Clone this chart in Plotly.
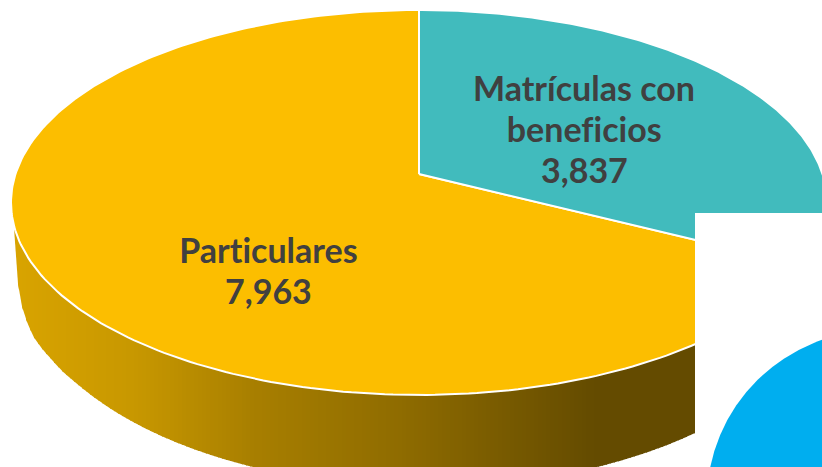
import numpy as np
import plotly.graph_objects as go

categories = [['Matrículas con', 'beneficios'], ['Particulares']]
values = [3837, 7963]
slice_colors = ['#41BBBD', '#FCBE00']
label_x = [584, 268]
label_top_y = [87, 249]
LINE_STEP = 41

W = 822
H = 467

# tilted disc: projective map of the unit circle, apex sits above the ellipse centre
APEX_X = 419
APEX_Y = 174
BX = 403.5
BY = 188.3
PERSP = 0.148

# wall: lower rim of the disc
LOW_CX = 425
LOW_CY = 275
LOW_RX = 405
LOW_RY = 212
left_rim_x = [14, 17, 21, 25, 33, 43, 62, 83]
left_rim_y = [228, 277, 303, 317, 336, 350, 371, 389]

wall_stop_x = [13, 133, 253, 400, 590, 830]
wall_stop_r = [217, 200, 168, 143, 101, 100]
wall_stop_g = [164, 152, 127, 108, 76, 75]


def disc_point(theta):
    # theta is clockwise from 12 o'clock
    u = np.sin(theta)
    v = np.cos(theta)
    w = 1 + PERSP * v
    return APEX_X + BX * u / w, APEX_Y - BY * v / w


def wedge(start, stop):
    theta = np.linspace(start, stop, 240)
    x, y = disc_point(theta)
    return np.r_[APEX_X, x, APEX_X], np.r_[APEX_Y, y, APEX_Y]


def wall_bottom(x):
    dx = np.clip((x - LOW_CX) / LOW_RX, -1, 1)
    y = LOW_CY + LOW_RY * np.sqrt(1 - dx ** 2)
    return np.where(x < 83, np.interp(x, left_rim_x, left_rim_y), y)


fig = go.Figure()

# side wall, vertical strips for the horizontal gradient
edges = np.arange(14, 830, 4)
for x0 in edges:
    xs = np.linspace(x0, x0 + 5, 6)
    r = np.interp(x0, wall_stop_x, wall_stop_r)
    g = np.interp(x0, wall_stop_x, wall_stop_g)
    fig.add_trace(go.Scatter(
        x=np.r_[xs, xs[::-1]],
        y=np.r_[wall_bottom(xs), [202] * 6],
        mode='lines',
        fill='toself',
        fillcolor='rgb(%d,%d,0)' % (r, g),
        line=dict(width=0),
        hoverinfo='skip',
        showlegend=False,
    ))

# top of the pie, slices from the values
shares = np.array(values) / sum(values)
angles = np.r_[0, np.cumsum(shares)] * 2 * np.pi
for i in [1, 0]:
    x, y = wedge(angles[i], angles[i + 1])
    fig.add_trace(go.Scatter(
        x=x,
        y=y,
        mode='lines',
        fill='toself',
        fillcolor=slice_colors[i],
        line=dict(color='white', width=2),
        hoverinfo='skip',
        showlegend=False,
    ))

# one annotation per line, the reference leading is tighter than plotly's <br>
for i in range(len(categories)):
    lines = categories[i] + [format(values[i], ',')]
    for n, line in enumerate(lines):
        fig.add_annotation(
            x=label_x[i],
            y=label_top_y[i] + n * LINE_STEP,
            text=line,
            showarrow=False,
            font=dict(family='Lato', size=34, color='#404040', weight=700),
        )

# the white box and blue circle lying over the corner
fig.add_shape(type='rect', x0=695, x1=830, y0=213, y1=475, fillcolor='white', line_width=0, layer='above')
fig.add_shape(type='circle', x0=707, x1=1053, y0=330, y1=670, fillcolor='#00AEEF', line_width=0, layer='above')

fig.update_layout(
    width=W,
    height=H,
    margin=dict(l=0, r=0, t=0, b=0),
    paper_bgcolor='white',
    plot_bgcolor='white',
    xaxis=dict(range=[0, W], visible=False, fixedrange=True),
    yaxis=dict(range=[H, 0], visible=False, fixedrange=True),
)

fig.write_html('out.html', config=dict(displayModeBar=False),
               post_script="document.body.style.margin='0';"
                           "document.querySelectorAll('.annotation text').forEach("
                           "t => t.style.fontVariantLigatures='none');")
